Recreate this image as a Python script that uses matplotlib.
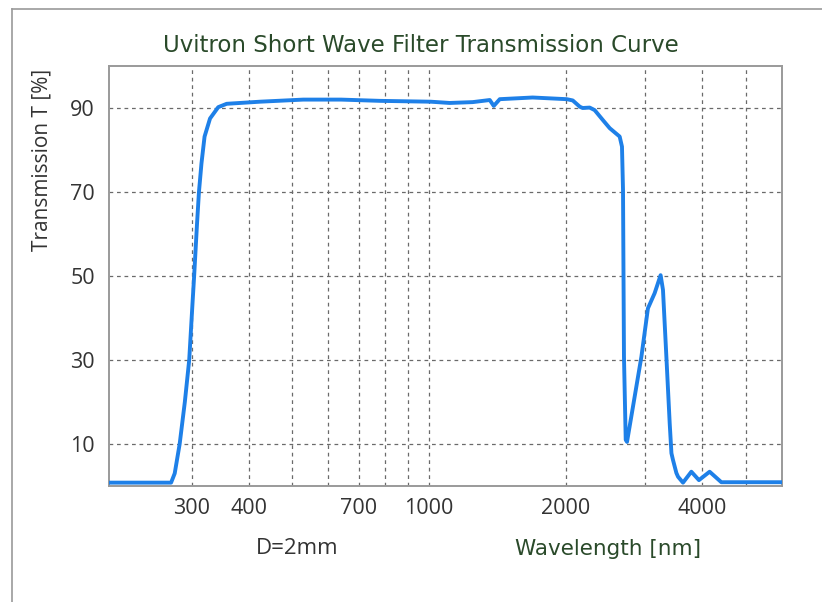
import matplotlib
matplotlib.use("Agg")
import matplotlib.pyplot as plt
from matplotlib.lines import Line2D

# Transmission curve (wavelength in nm, T in %)
wavelength = [197, 270, 275, 282, 289.5, 296, 301, 303.5, 308, 311, 315, 320, 329,
              343, 358, 424, 528, 640, 780, 1009, 1110, 1248, 1361, 1389, 1432,
              1692, 2012, 2074, 2150, 2181, 2260, 2318, 2418, 2502, 2632, 2663,
              2677, 2690, 2714, 2732, 2816, 2939, 3038, 3143, 3240, 3279, 3336,
              3393, 3423, 3450, 3510, 3540, 3630, 3787, 3936, 4155, 4410, 6000]
transmission = [0.8, 0.8, 3.0, 10.0, 20.0, 30.0, 43.5, 50.0, 62.5, 70.0, 76.8, 83.2, 87.5,
                90.2, 91.0, 91.5, 92.0, 92.0, 91.7, 91.5, 91.2, 91.4, 91.9, 90.5, 92.1,
                92.5, 92.1, 91.8, 90.3, 90.0, 90.1, 89.5, 87.1, 85.2, 83.2, 80.8,
                70.5, 30.8, 11.0, 10.5, 18.9, 30.8, 42.3, 45.9, 50.2, 46.7, 30.8,
                14.9, 7.8, 6.2, 3.1, 2.2, 0.8, 3.4, 1.4, 3.4, 0.9, 0.9]

# x gridlines and which of them get a label
x_grid = [300, 400, 500, 600, 700, 800, 900, 1000, 2000, 3000, 4000, 5000]
x_labels = ["300", "400", "", "", "700", "", "", "1000", "2000", "", "4000", ""]
y_ticks = [10, 30, 50, 70, 90]

green = "#2a4a2a"
tick_col = "#333333"

fig = plt.figure(figsize=(8.22, 6.02), dpi=100)
ax = fig.add_axes([109 / 822, 1 - 486 / 602, (782 - 109) / 822, (486 - 66) / 602])

ax.plot(wavelength, transmission, color="#1e80e8", linewidth=2.8,
        solid_joinstyle="round", solid_capstyle="round", zorder=3)

ax.set_xscale("log")
ax.set_xlim(197, 6000)
ax.set_ylim(0, 100)

ax.set_xticks(x_grid)
ax.set_xticklabels(x_labels)
ax.xaxis.set_minor_locator(matplotlib.ticker.NullLocator())
ax.set_yticks(y_ticks)
ax.tick_params(axis="x", length=0, labelsize=15.5, labelcolor=tick_col, pad=9)
ax.tick_params(axis="y", length=0, labelsize=15.5, labelcolor=tick_col, pad=10)
for lab in ax.get_xticklabels() + ax.get_yticklabels():
    lab.set_family("Open Sans")

ax.grid(True, color="#6a6a6a", linestyle=(0, (3, 3)), linewidth=0.9)
ax.set_axisbelow(True)

for sp in ax.spines.values():
    sp.set_color("#9a9a9a")
    sp.set_linewidth(1.4)

# Title and labels
fig.text(421 / 822, 1 - 45 / 602, "Uvitron Short Wave Filter Transmission Curve",
         ha="center", va="center", fontsize=16.5, color=green)
fig.text(42 / 822, 1 - 160 / 602, "Transmission T [%]", rotation=90,
         ha="center", va="center", fontsize=15, color=tick_col, family="Open Sans")
fig.text(297 / 822, 1 - 549 / 602, "D=2mm", ha="center", va="center",
         fontsize=16, color=tick_col, family="Open Sans")
fig.text(608 / 822, 1 - 549 / 602, "Wavelength [nm]", ha="center", va="center",
         fontsize=15.5, color=green)

# Outer frame (top and left edges only)
fig.add_artist(Line2D([12 / 822, 1], [1 - 9 / 602, 1 - 9 / 602],
                      transform=fig.transFigure, color="#9a9a9a", linewidth=1.2))
fig.add_artist(Line2D([12 / 822, 12 / 822], [0, 1 - 9 / 602],
                      transform=fig.transFigure, color="#9a9a9a", linewidth=1.2))

fig.savefig("out.png", dpi=100)
